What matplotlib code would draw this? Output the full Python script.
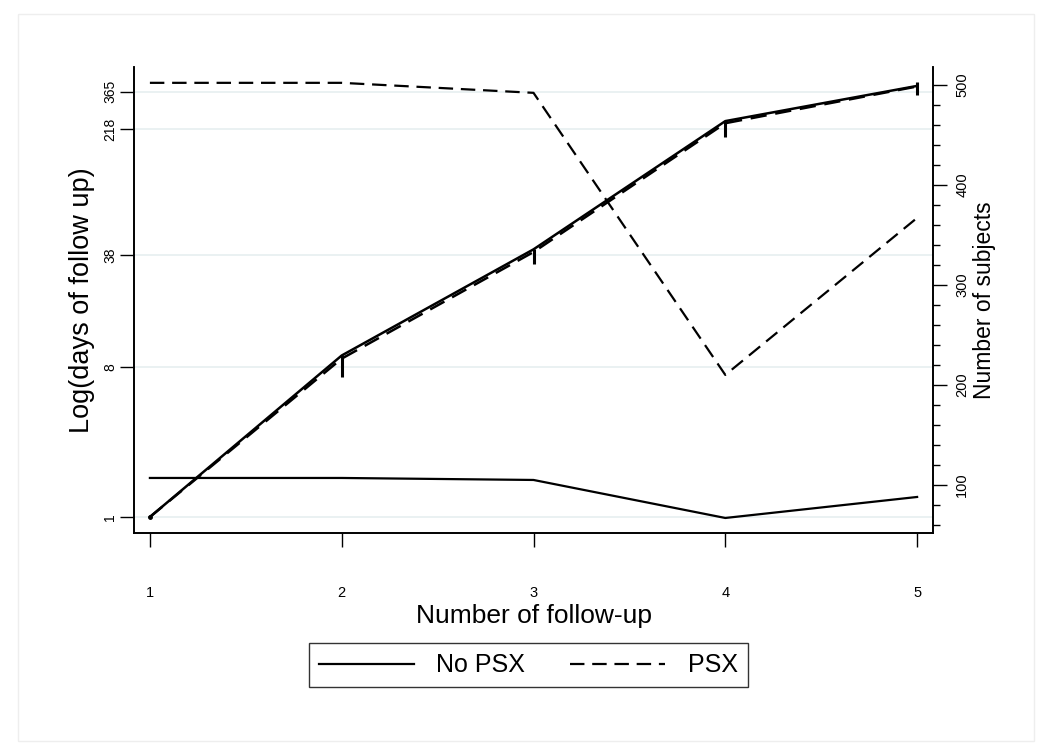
import matplotlib
matplotlib.use("Agg")
import matplotlib.pyplot as plt
from matplotlib.patches import Rectangle
from matplotlib.ticker import FixedLocator, MultipleLocator, NullLocator

plt.rcParams['font.family'] = ['Liberation Sans', 'DejaVu Sans']

followup = [1, 2, 3, 4, 5]

# Log(days of follow up)
days_nopsx = [1.0, 9.4, 41.0, 243.0, 396.0]
days_psx = [1.0, 9.0, 39.5, 236.0, 393.0]
bar_low = [1.0, 6.95, 33.4, 194.0, 348.0]
bar_high = [1.0, 9.4, 41.0, 243.0, 417.0]

# Number of subjects
n_nopsx = [107, 107, 105, 67, 88]
n_psx = [502, 502, 492, 210, 367]

left_ticks = [1, 8, 38, 218, 365]
right_ticks = [100, 200, 300, 400, 500]

fig = plt.figure(figsize=(10.5, 7.56), dpi=100)
fig.patches.append(Rectangle((0.017, 0.02), 0.968, 0.962, transform=fig.transFigure,
                             fill=False, edgecolor='#eeeeee', lw=1.0))

ax = fig.add_axes([0.1276, 0.295, 0.761, 0.6166])
ax2 = ax.twinx()

ax.set_yscale('log')
ax.set_xlim(0.917, 5.083)
ax.set_ylim(0.801, 516)
ax2.set_ylim(52, 518)

for y in left_ticks:
    ax.axhline(y, color='#e8f0f1', lw=1.3, zorder=0)

ax.vlines(followup, bar_low, bar_high, color='black', lw=2.2, zorder=3)
ax.plot(followup, days_nopsx, color='black', lw=1.8, zorder=4)
ax.plot(followup, days_psx, color='black', lw=1.8, dashes=(6.5, 3.5), zorder=4)
ax.plot([followup[0]], [days_nopsx[0]], 'o', color='black', ms=2.5, zorder=5)

l1, = ax2.plot(followup, n_nopsx, color='black', lw=1.6, label='No PSX')
l2, = ax2.plot(followup, n_psx, color='black', lw=1.6, dashes=(6.5, 3.5), label='PSX')

ax.yaxis.set_major_locator(FixedLocator(left_ticks))
ax.yaxis.set_minor_locator(NullLocator())
ax.set_yticklabels([str(t) for t in left_ticks], rotation=90, va='center', fontsize=10)
ax.set_xticks(followup)
ax.set_xticklabels([str(x) for x in followup], fontsize=10.5)
ax.tick_params(axis='x', direction='out', length=10, width=1, pad=28)
ax.tick_params(axis='y', direction='out', length=10, width=1, pad=2)

ax2.yaxis.set_major_locator(FixedLocator(right_ticks))
ax2.yaxis.set_minor_locator(MultipleLocator(20))
ax2.set_yticklabels([str(t) for t in right_ticks], rotation=90, va='center', fontsize=10.5)
ax2.tick_params(axis='y', which='major', direction='out', length=10, width=1, pad=6)
ax2.tick_params(axis='y', which='minor', direction='out', length=5, width=1)

for a in (ax, ax2):
    a.spines['top'].set_visible(False)
    for s in ('left', 'right', 'bottom'):
        a.spines[s].set_linewidth(1.2)

ax.set_ylabel('Log(days of follow up)', fontsize=19.5, labelpad=6)
ax2.set_ylabel('Number of subjects', fontsize=16.5, rotation=90, labelpad=3)
ax.set_xlabel('Number of follow-up', fontsize=19, labelpad=3)

leg = fig.legend(handles=[l1, l2], loc='center', bbox_to_anchor=(0.503, 0.12),
                 ncol=2, fontsize=18, frameon=True, fancybox=False,
                 handlelength=3.8, columnspacing=1.8, handletextpad=0.9,
                 borderpad=0.4, edgecolor='black')
leg.get_frame().set_linewidth(1.0)

fig.savefig('out.png', dpi=100, facecolor='white')
